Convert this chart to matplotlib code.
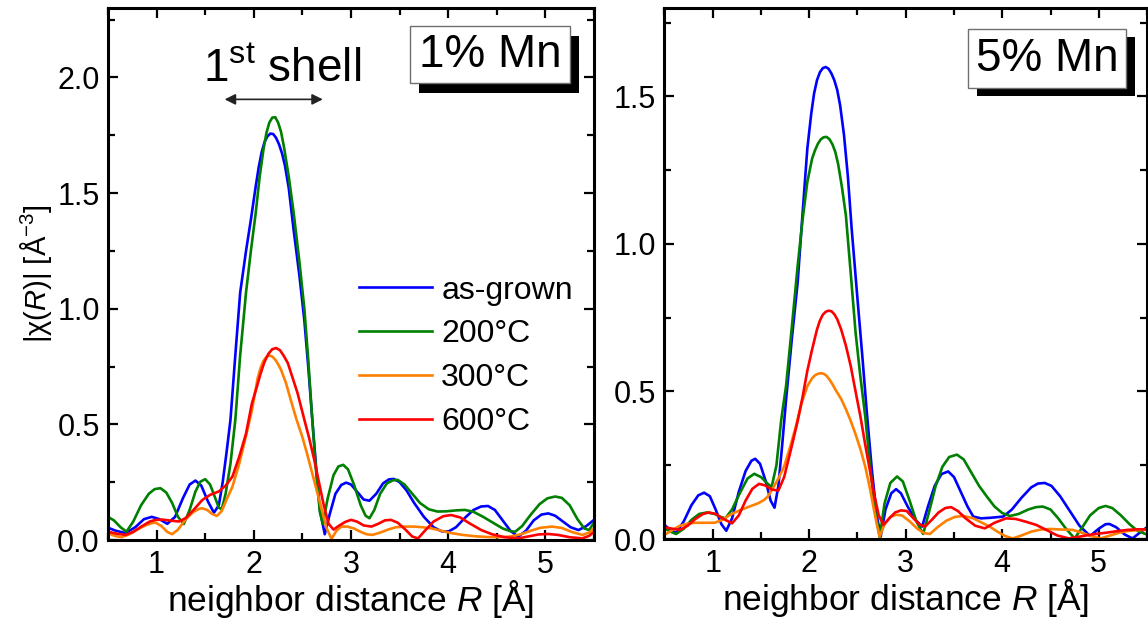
import matplotlib
matplotlib.use("Agg")
import matplotlib.pyplot as plt
from matplotlib.patches import Rectangle
from matplotlib.ticker import MultipleLocator

plt.rcParams['font.family'] = ['Liberation Sans', 'DejaVu Sans']
plt.rcParams['mathtext.fontset'] = 'custom'
plt.rcParams['mathtext.rm'] = 'Liberation Sans'
plt.rcParams['mathtext.it'] = 'Liberation Sans:italic'
plt.rcParams['mathtext.bf'] = 'Liberation Sans:bold'

# ---------------- data: 1% Mn ----------------
r1_asgrown = [0.50,0.58,0.68,0.78,0.87,0.95,1.03,1.11,1.19,1.27,1.34,1.40,1.46,1.53,1.59,1.64,1.68,1.72,1.76,1.81,
              1.86,1.92,1.97,2.02,2.05,2.08,2.11,2.14,2.17,2.20,2.23,2.26,2.29,2.32,2.36,2.41,2.47,2.52,2.56,2.60,
              2.64,2.68,2.73,2.78,2.84,2.90,2.95,3.00,3.06,3.13,3.19,3.26,3.33,3.39,3.44,3.50,3.57,3.65,3.75,3.85,
              3.93,4.00,4.08,4.17,4.26,4.34,4.41,4.48,4.56,4.64,4.72,4.80,4.88,4.96,5.03,5.10,5.18,5.26,5.34,5.42,
              5.50]
c1_asgrown = [0.053,0.040,0.030,0.055,0.090,0.100,0.090,0.070,0.100,0.180,0.240,0.257,0.235,0.165,0.118,0.150,0.250,0.380,0.520,0.800,
              1.070,1.250,1.385,1.530,1.610,1.675,1.720,1.745,1.757,1.755,1.738,1.710,1.672,1.620,1.520,1.340,1.140,0.950,0.750,0.530,
              0.320,0.130,0.025,0.110,0.200,0.238,0.248,0.240,0.210,0.175,0.170,0.200,0.245,0.262,0.264,0.250,0.215,0.160,0.100,0.055,
              0.038,0.036,0.055,0.095,0.130,0.145,0.147,0.130,0.085,0.040,0.014,0.040,0.085,0.110,0.115,0.105,0.080,0.055,0.043,0.060,
              0.087]

r1_200 = [0.50,0.56,0.63,0.69,0.76,0.84,0.92,0.98,1.04,1.10,1.16,1.22,1.28,1.34,1.40,1.45,1.50,1.55,1.60,1.64,
          1.67,1.71,1.76,1.81,1.86,1.92,1.97,2.02,2.06,2.10,2.13,2.16,2.19,2.22,2.25,2.28,2.31,2.36,2.41,2.47,
          2.52,2.56,2.60,2.64,2.68,2.71,2.76,2.82,2.87,2.92,2.97,3.03,3.10,3.15,3.19,3.24,3.30,3.37,3.43,3.48,
          3.55,3.63,3.71,3.80,3.89,3.98,4.08,4.17,4.26,4.36,4.46,4.56,4.64,4.69,4.76,4.85,4.94,5.02,5.10,5.17,
          5.25,5.33,5.40,5.45,5.50]
c1_200 = [0.100,0.085,0.055,0.036,0.080,0.150,0.200,0.220,0.224,0.205,0.160,0.100,0.069,0.130,0.210,0.252,0.263,0.240,0.185,0.140,
          0.133,0.200,0.330,0.520,0.800,1.070,1.250,1.415,1.570,1.690,1.760,1.805,1.826,1.828,1.805,1.765,1.700,1.570,1.415,1.200,
          1.000,0.780,0.530,0.300,0.120,0.069,0.180,0.280,0.318,0.325,0.305,0.240,0.150,0.105,0.094,0.130,0.200,0.245,0.258,0.260,
          0.240,0.200,0.160,0.133,0.123,0.124,0.128,0.130,0.122,0.100,0.075,0.050,0.038,0.036,0.060,0.110,0.155,0.180,0.188,0.182,
          0.150,0.090,0.050,0.043,0.075]

r1_300 = [0.50,0.57,0.64,0.72,0.80,0.88,0.95,0.99,1.05,1.11,1.16,1.22,1.30,1.38,1.44,1.47,1.52,1.57,1.62,1.67,
          1.72,1.78,1.85,1.92,1.98,2.04,2.07,2.10,2.13,2.16,2.19,2.22,2.25,2.28,2.33,2.38,2.44,2.50,2.55,2.60,
          2.65,2.70,2.75,2.80,2.85,2.90,2.96,3.03,3.10,3.16,3.22,3.30,3.38,3.46,3.55,3.65,3.74,3.83,3.93,4.03,
          4.15,4.28,4.40,4.52,4.64,4.75,4.85,4.95,5.07,5.17,5.27,5.38,5.45,5.50]
c1_300 = [0.029,0.018,0.012,0.025,0.045,0.062,0.073,0.075,0.060,0.035,0.025,0.045,0.090,0.122,0.135,0.137,0.130,0.113,0.104,0.125,
          0.175,0.230,0.330,0.450,0.560,0.700,0.745,0.775,0.792,0.798,0.793,0.780,0.760,0.736,0.680,0.606,0.520,0.445,0.370,0.290,
          0.210,0.130,0.050,0.005,0.040,0.058,0.058,0.050,0.035,0.025,0.022,0.032,0.045,0.055,0.058,0.058,0.055,0.050,0.040,0.030,
          0.022,0.016,0.013,0.012,0.015,0.025,0.040,0.053,0.058,0.052,0.035,0.022,0.032,0.050]

r1_600 = [0.50,0.58,0.68,0.76,0.85,0.93,0.99,1.06,1.14,1.23,1.30,1.38,1.47,1.55,1.64,1.71,1.78,1.85,1.92,1.98,
          2.03,2.07,2.11,2.15,2.19,2.23,2.27,2.31,2.35,2.40,2.45,2.52,2.57,2.62,2.67,2.72,2.77,2.82,2.87,2.94,
          3.00,3.06,3.13,3.21,3.28,3.35,3.41,3.48,3.56,3.63,3.69,3.76,3.85,3.95,4.03,4.12,4.22,4.34,4.45,4.58,
          4.72,4.82,4.93,5.03,5.13,5.25,5.38,5.45,5.50]
c1_600 = [0.036,0.028,0.022,0.035,0.060,0.080,0.087,0.088,0.084,0.080,0.095,0.130,0.173,0.195,0.210,0.235,0.274,0.360,0.460,0.590,
          0.660,0.720,0.770,0.805,0.825,0.830,0.820,0.795,0.765,0.700,0.635,0.520,0.440,0.350,0.250,0.150,0.070,0.045,0.060,0.078,
          0.087,0.080,0.063,0.058,0.070,0.085,0.087,0.075,0.045,0.015,0.007,0.040,0.080,0.103,0.108,0.098,0.072,0.043,0.025,0.012,
          0.007,0.015,0.024,0.026,0.022,0.012,0.007,0.018,0.035]

# ---------------- data: 5% Mn ----------------
r5_asgrown = [0.50,0.56,0.62,0.70,0.78,0.85,0.91,0.97,1.03,1.09,1.14,1.20,1.27,1.34,1.40,1.44,1.49,1.55,1.60,1.64,
              1.68,1.72,1.76,1.82,1.88,1.93,1.98,2.02,2.05,2.08,2.11,2.14,2.17,2.20,2.23,2.26,2.29,2.32,2.36,2.40,
              2.44,2.50,2.55,2.60,2.65,2.70,2.74,2.79,2.85,2.90,2.95,3.02,3.10,3.17,3.23,3.30,3.37,3.44,3.50,3.57,
              3.64,3.70,3.78,3.88,4.01,4.10,4.20,4.30,4.37,4.44,4.51,4.60,4.70,4.80,4.91,5.00,5.07,5.11,5.18,5.27,
              5.35,5.42,5.50]
c5_asgrown = [0.048,0.030,0.021,0.060,0.115,0.148,0.157,0.145,0.100,0.050,0.028,0.070,0.160,0.230,0.265,0.272,0.255,0.195,0.130,0.106,
              0.180,0.320,0.473,0.680,0.870,1.100,1.323,1.440,1.510,1.555,1.582,1.596,1.600,1.594,1.578,1.555,1.522,1.470,1.370,1.230,
              1.050,0.813,0.620,0.416,0.230,0.080,0.008,0.100,0.155,0.169,0.155,0.110,0.065,0.042,0.110,0.180,0.220,0.229,0.210,0.160,
              0.110,0.076,0.070,0.072,0.076,0.100,0.140,0.175,0.188,0.190,0.180,0.145,0.095,0.045,0.010,0.035,0.050,0.051,0.040,0.015,
              0.002,0.020,0.040]

r5_200 = [0.50,0.56,0.62,0.70,0.78,0.86,0.94,1.02,1.08,1.13,1.20,1.28,1.36,1.43,1.50,1.56,1.61,1.66,1.71,1.76,
          1.82,1.88,1.93,1.98,2.03,2.06,2.09,2.12,2.15,2.18,2.21,2.24,2.27,2.30,2.34,2.38,2.43,2.48,2.53,2.58,
          2.63,2.68,2.73,2.78,2.84,2.91,2.97,3.04,3.11,3.18,3.24,3.31,3.38,3.45,3.53,3.60,3.68,3.76,3.84,3.92,
          4.00,4.08,4.17,4.27,4.35,4.42,4.50,4.58,4.66,4.75,4.83,4.91,5.00,5.07,5.14,5.23,5.32,5.40,5.50]
c5_200 = [0.036,0.025,0.017,0.035,0.065,0.085,0.090,0.085,0.075,0.070,0.100,0.155,0.205,0.221,0.210,0.190,0.176,0.250,0.405,0.520,
          0.720,0.926,1.080,1.210,1.290,1.318,1.340,1.355,1.362,1.363,1.355,1.338,1.312,1.270,1.190,1.096,0.900,0.700,0.550,0.416,
          0.250,0.100,0.006,0.120,0.190,0.212,0.195,0.130,0.060,0.017,0.090,0.180,0.245,0.278,0.286,0.270,0.225,0.180,0.144,0.110,
          0.088,0.078,0.085,0.100,0.108,0.110,0.100,0.070,0.035,0.002,0.040,0.080,0.105,0.112,0.105,0.080,0.050,0.028,0.015]

r5_300 = [0.50,0.58,0.66,0.74,0.81,0.90,1.02,1.10,1.17,1.23,1.30,1.38,1.47,1.53,1.57,1.62,1.68,1.74,1.80,1.86,
          1.92,1.98,2.03,2.06,2.09,2.12,2.15,2.18,2.21,2.24,2.27,2.33,2.38,2.43,2.48,2.53,2.58,2.63,2.67,2.70,
          2.73,2.78,2.84,2.90,2.96,3.04,3.12,3.19,3.25,3.33,3.42,3.51,3.60,3.70,3.79,3.87,3.95,4.03,4.11,4.20,
          4.30,4.40,4.50,4.62,4.73,4.82,4.92,5.02,5.12,5.22,5.30,5.40,5.50]
c5_300 = [0.014,0.030,0.045,0.052,0.055,0.055,0.055,0.065,0.080,0.090,0.100,0.110,0.121,0.132,0.144,0.170,0.205,0.246,0.310,0.380,
          0.460,0.518,0.545,0.555,0.560,0.562,0.560,0.553,0.540,0.525,0.507,0.475,0.440,0.400,0.355,0.305,0.246,0.170,0.100,0.050,
          0.008,0.050,0.075,0.082,0.080,0.060,0.035,0.020,0.017,0.040,0.062,0.075,0.078,0.070,0.055,0.042,0.025,0.010,0.002,0.012,
          0.025,0.032,0.034,0.032,0.031,0.022,0.010,0.002,0.012,0.022,0.027,0.030,0.031]

r5_600 = [0.50,0.58,0.66,0.74,0.82,0.90,0.96,1.03,1.10,1.20,1.27,1.34,1.41,1.48,1.54,1.61,1.68,1.74,1.81,1.88,
          1.93,1.98,2.03,2.08,2.11,2.14,2.17,2.20,2.23,2.26,2.29,2.33,2.38,2.43,2.48,2.53,2.58,2.63,2.67,2.72,
          2.77,2.83,2.89,2.95,3.01,3.08,3.14,3.20,3.27,3.34,3.41,3.47,3.54,3.62,3.72,3.82,3.92,4.04,4.14,4.25,
          4.35,4.45,4.57,4.69,4.80,4.92,5.07,5.20,5.30,5.41,5.50]
c5_600 = [0.040,0.035,0.031,0.045,0.068,0.085,0.090,0.085,0.070,0.053,0.080,0.130,0.170,0.187,0.182,0.168,0.164,0.210,0.303,0.400,
          0.480,0.570,0.643,0.710,0.740,0.760,0.770,0.774,0.772,0.762,0.745,0.711,0.655,0.586,0.500,0.416,0.320,0.230,0.155,0.080,
          0.048,0.070,0.090,0.097,0.095,0.070,0.050,0.042,0.065,0.090,0.105,0.108,0.095,0.070,0.045,0.036,0.055,0.070,0.068,0.058,
          0.048,0.032,0.012,0.002,0.008,0.015,0.021,0.027,0.031,0.033,0.032]

labels = ['as-grown', '200°C', '300°C', '600°C']
colors = ['#0000FF', '#008000', '#FF8000', '#FF0000']
xticks = [1, 2, 3, 4, 5]
yticks_left = [0.0, 0.5, 1.0, 1.5, 2.0]
yticks_right = [0.0, 0.5, 1.0, 1.5]

FS_TICK = 22
FS_XLAB = 25.5
FS_YLAB = 21

fig = plt.figure(figsize=(11.48, 6.22), dpi=100)
axL = fig.add_axes([0.09408, 0.13183, 0.42334, 0.85531])
axR = fig.add_axes([0.57883, 0.13344, 0.42030, 0.85370])

series_L = [(r1_asgrown, c1_asgrown), (r1_200, c1_200), (r1_300, c1_300), (r1_600, c1_600)]
series_R = [(r5_asgrown, c5_asgrown), (r5_200, c5_200), (r5_300, c5_300), (r5_600, c5_600)]

for ax, series, ylim, yt in [(axL, series_L, (0, 2.3), yticks_left), (axR, series_R, (0, 1.8), yticks_right)]:
    for (x, y), col, lab in zip(series, colors, labels):
        ax.plot(x, y, color=col, lw=1.9, label=lab, solid_joinstyle='round')
    ax.set_xlim(0.5, 5.5)
    ax.set_ylim(*ylim)
    ax.set_xticks(xticks)
    ax.set_yticks(yt)
    ax.set_yticklabels([f'{v:.1f}' for v in yt])
    ax.xaxis.set_minor_locator(MultipleLocator(0.5))
    ax.yaxis.set_minor_locator(MultipleLocator(0.25))
    ax.tick_params(which='both', direction='in', top=True, right=True, width=1.6, labelsize=FS_TICK)
    ax.tick_params(which='major', length=7)
    ax.tick_params(which='minor', length=5)
    ax.tick_params(axis='x', pad=7)
    ax.tick_params(axis='y', pad=6)
    for sp in ax.spines.values():
        sp.set_linewidth(2.2)
    ax.set_xlabel(r'neighbor distance $\mathit{R}$ [Å]', fontsize=FS_XLAB, labelpad=-1)

axL.set_ylabel(r'|χ($\mathit{R}$)| [Å$^{\mathrm{-3}}$]', fontsize=FS_YLAB, labelpad=2)

leg = axL.legend(loc='upper left', bbox_to_anchor=(0.516, 0.497), frameon=False, fontsize=23,
                 handlelength=2.3, handletextpad=0.28, labelspacing=0.43, borderpad=0, borderaxespad=0)


def shadow_box(ax, x0, y0, x1, y1, dx, dy, text):
    ax.add_patch(Rectangle((x0 + dx, y0 - dy), x1 - x0, y1 - y0, transform=ax.transAxes,
                           facecolor='black', edgecolor='none', zorder=5))
    ax.add_patch(Rectangle((x0, y0), x1 - x0, y1 - y0, transform=ax.transAxes,
                           facecolor='white', edgecolor='#707070', lw=1.0, zorder=6))
    ax.text((x0 + x1) / 2, (y0 + y1) / 2, text, transform=ax.transAxes, fontsize=33,
            ha='center', va='center', zorder=7)


shadow_box(axL, 0.621, 0.859, 0.951, 0.966, 0.0185, 0.0188, '1% Mn')
shadow_box(axR, 0.629, 0.849, 0.956, 0.960, 0.0187, 0.0151, '5% Mn')

axL.text(2.29, 1.98, r'1$^{\mathrm{st}}$ shell', fontsize=33, ha='center', va='baseline')
axL.annotate('', xy=(1.70, 1.905), xytext=(2.71, 1.905),
             arrowprops=dict(arrowstyle='<|-|>', color='#222222', lw=1.2, mutation_scale=16,
                             shrinkA=0, shrinkB=0))

fig.savefig('out.png', dpi=100)
